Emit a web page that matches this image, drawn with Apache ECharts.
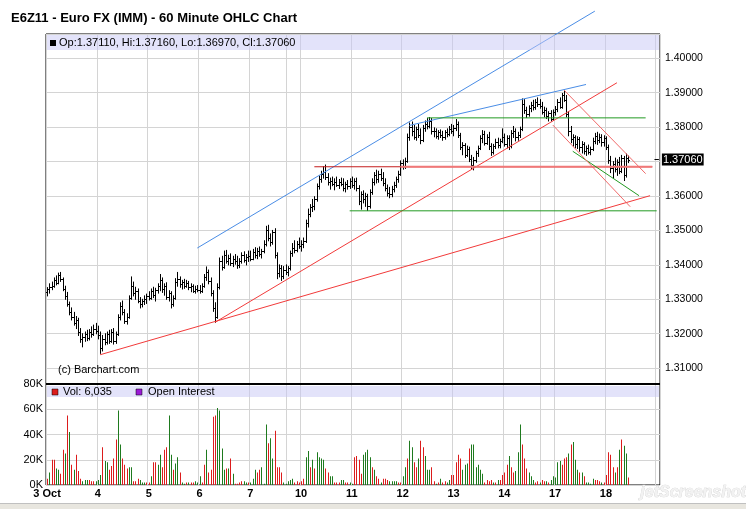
<!DOCTYPE html>
<html>
<head>
<meta charset="utf-8">
<title>E6Z11 60 Minute OHLC</title>
<script src="https://cdn.jsdelivr.net/npm/echarts@6/dist/echarts.min.js"></script>
<style>
  html, body { margin: 0; padding: 0; background: #fff; }
  #main { width: 746px; height: 509px; }
</style>
</head>
<body>
<div id="main"></div>
<script>
// day labels on the time axis, one trading day = 23 hourly bars
var dayLabels = ['3 Oct', '4', '5', '6', '7', '10', '11', '12', '13', '14', '17', '18'];
var barsPerDay = 23;
var slotCount = 278;          // room on the axis, bars stop at 264
var weekLines = [109, 224];   // extra vertical grid lines

// hourly bars: [open, high, low, close]
var ohlc = [
  // 3 Oct
  [1.3322,1.3334,1.3310,1.3330],[1.3330,1.3345,1.3318,1.3335],[1.3335,1.3350,1.3328,1.3340],[1.3340,1.3362,1.3335,1.3355],
  [1.3355,1.3368,1.3342,1.3348],[1.3348,1.3376,1.3345,1.3370],[1.3370,1.3378,1.3352,1.3358],[1.3358,1.3362,1.3325,1.3330],
  [1.3330,1.3338,1.3300,1.3310],[1.3310,1.3320,1.3280,1.3285],[1.3285,1.3292,1.3255,1.3262],[1.3262,1.3275,1.3240,1.3248],
  [1.3248,1.3262,1.3225,1.3232],[1.3232,1.3250,1.3215,1.3240],[1.3240,1.3245,1.3195,1.3205],[1.3205,1.3215,1.3175,1.3185],
  [1.3185,1.3200,1.3162,1.3190],[1.3190,1.3205,1.3178,1.3198],[1.3198,1.3210,1.3180,1.3188],[1.3188,1.3212,1.3182,1.3205],
  [1.3205,1.3220,1.3190,1.3200],[1.3200,1.3225,1.3195,1.3215],[1.3215,1.3230,1.3200,1.3208],
  // 4
  [1.3208,1.3222,1.3185,1.3195],[1.3195,1.3205,1.3143,1.3160],[1.3160,1.3195,1.3150,1.3185],[1.3185,1.3200,1.3168,1.3175],
  [1.3175,1.3205,1.3170,1.3198],[1.3198,1.3210,1.3172,1.3180],[1.3180,1.3212,1.3175,1.3205],[1.3205,1.3215,1.3170,1.3178],
  [1.3178,1.3205,1.3172,1.3200],[1.3200,1.3255,1.3195,1.3250],[1.3250,1.3290,1.3240,1.3280],[1.3280,1.3295,1.3255,1.3262],
  [1.3262,1.3270,1.3230,1.3238],[1.3238,1.3258,1.3228,1.3250],[1.3250,1.3310,1.3245,1.3305],[1.3305,1.3365,1.3300,1.3340],
  [1.3340,1.3350,1.3310,1.3318],[1.3318,1.3335,1.3300,1.3325],[1.3325,1.3330,1.3290,1.3295],[1.3295,1.3305,1.3275,1.3285],
  [1.3285,1.3300,1.3278,1.3295],[1.3295,1.3310,1.3285,1.3300],[1.3300,1.3315,1.3288,1.3310],
  // 5
  [1.3310,1.3322,1.3298,1.3305],[1.3305,1.3330,1.3300,1.3325],[1.3325,1.3335,1.3305,1.3312],[1.3312,1.3332,1.3295,1.3328],
  [1.3328,1.3345,1.3318,1.3338],[1.3338,1.3372,1.3325,1.3355],[1.3355,1.3362,1.3320,1.3330],[1.3330,1.3345,1.3312,1.3340],
  [1.3340,1.3348,1.3300,1.3308],[1.3308,1.3325,1.3295,1.3318],[1.3318,1.3322,1.3275,1.3285],[1.3285,1.3310,1.3280,1.3305],
  [1.3305,1.3360,1.3300,1.3350],[1.3350,1.3378,1.3338,1.3360],[1.3360,1.3365,1.3335,1.3345],[1.3345,1.3355,1.3330,1.3350],
  [1.3350,1.3358,1.3332,1.3340],[1.3340,1.3355,1.3335,1.3348],[1.3348,1.3352,1.3328,1.3335],[1.3335,1.3345,1.3322,1.3340],
  [1.3340,1.3342,1.3320,1.3325],[1.3325,1.3338,1.3318,1.3330],[1.3330,1.3340,1.3322,1.3328],
  // 6
  [1.3328,1.3340,1.3318,1.3325],[1.3325,1.3345,1.3320,1.3338],[1.3338,1.3372,1.3335,1.3365],[1.3365,1.3394,1.3355,1.3378],
  [1.3378,1.3385,1.3345,1.3352],[1.3352,1.3362,1.3310,1.3318],[1.3318,1.3325,1.3265,1.3275],[1.3275,1.3290,1.3233,1.3250],
  [1.3250,1.3345,1.3245,1.3335],[1.3335,1.3420,1.3330,1.3410],[1.3410,1.3425,1.3385,1.3395],[1.3395,1.3440,1.3390,1.3430],
  [1.3430,1.3442,1.3405,1.3412],[1.3412,1.3428,1.3400,1.3420],[1.3420,1.3432,1.3398,1.3405],[1.3405,1.3425,1.3395,1.3418],
  [1.3418,1.3430,1.3402,1.3410],[1.3410,1.3425,1.3390,1.3400],[1.3400,1.3418,1.3392,1.3412],[1.3412,1.3435,1.3405,1.3428],
  [1.3428,1.3438,1.3408,1.3415],[1.3415,1.3430,1.3400,1.3422],[1.3422,1.3440,1.3410,1.3425],
  // 7
  [1.3425,1.3440,1.3412,1.3418],[1.3418,1.3445,1.3415,1.3438],[1.3438,1.3450,1.3420,1.3428],[1.3428,1.3448,1.3418,1.3440],
  [1.3440,1.3452,1.3425,1.3432],[1.3432,1.3445,1.3420,1.3440],[1.3440,1.3470,1.3435,1.3462],[1.3462,1.3512,1.3455,1.3500],
  [1.3500,1.3515,1.3470,1.3478],[1.3478,1.3490,1.3455,1.3465],[1.3465,1.3500,1.3460,1.3495],[1.3495,1.3505,1.3420,1.3430],
  [1.3430,1.3435,1.3360,1.3375],[1.3375,1.3400,1.3365,1.3390],[1.3390,1.3398,1.3355,1.3368],[1.3368,1.3395,1.3360,1.3385],
  [1.3385,1.3400,1.3372,1.3378],[1.3378,1.3395,1.3368,1.3390],[1.3390,1.3440,1.3385,1.3435],[1.3435,1.3462,1.3425,1.3450],
  [1.3450,1.3470,1.3435,1.3442],[1.3442,1.3468,1.3438,1.3460],[1.3460,1.3478,1.3448,1.3455],
  // 10
  [1.3455,1.3470,1.3440,1.3462],[1.3462,1.3478,1.3450,1.3470],[1.3470,1.3530,1.3465,1.3522],[1.3522,1.3562,1.3510,1.3548],
  [1.3548,1.3575,1.3540,1.3568],[1.3568,1.3590,1.3555,1.3572],[1.3572,1.3598,1.3560,1.3590],[1.3590,1.3635,1.3585,1.3628],
  [1.3628,1.3658,1.3620,1.3650],[1.3650,1.3672,1.3640,1.3665],[1.3665,1.3685,1.3652,1.3670],[1.3670,1.3690,1.3648,1.3655],
  [1.3655,1.3665,1.3632,1.3640],[1.3640,1.3652,1.3620,1.3645],[1.3645,1.3655,1.3630,1.3635],[1.3635,1.3650,1.3618,1.3642],
  [1.3642,1.3655,1.3628,1.3632],[1.3632,1.3648,1.3622,1.3640],[1.3640,1.3652,1.3630,1.3636],[1.3636,1.3650,1.3615,1.3622],
  [1.3622,1.3640,1.3612,1.3635],[1.3635,1.3645,1.3620,1.3628],[1.3628,1.3650,1.3622,1.3645],
  // 11
  [1.3645,1.3655,1.3625,1.3632],[1.3632,1.3650,1.3620,1.3645],[1.3645,1.3652,1.3615,1.3622],[1.3622,1.3630,1.3575,1.3585],
  [1.3585,1.3612,1.3562,1.3605],[1.3605,1.3615,1.3580,1.3592],[1.3592,1.3608,1.3570,1.3600],[1.3600,1.3605,1.3558,1.3570],
  [1.3570,1.3618,1.3565,1.3612],[1.3612,1.3650,1.3605,1.3640],[1.3640,1.3668,1.3632,1.3660],[1.3660,1.3675,1.3638,1.3648],
  [1.3648,1.3672,1.3640,1.3665],[1.3665,1.3678,1.3645,1.3652],[1.3652,1.3668,1.3630,1.3638],[1.3638,1.3650,1.3615,1.3622],
  [1.3622,1.3632,1.3600,1.3610],[1.3610,1.3625,1.3595,1.3605],[1.3605,1.3628,1.3598,1.3620],[1.3620,1.3640,1.3612,1.3632],
  [1.3632,1.3655,1.3625,1.3648],[1.3648,1.3672,1.3640,1.3665],[1.3665,1.3702,1.3660,1.3695],
  // 12
  [1.3695,1.3705,1.3678,1.3688],[1.3688,1.3710,1.3680,1.3702],[1.3702,1.3780,1.3698,1.3770],[1.3770,1.3812,1.3762,1.3800],
  [1.3800,1.3815,1.3775,1.3788],[1.3788,1.3805,1.3765,1.3772],[1.3772,1.3800,1.3762,1.3795],[1.3795,1.3808,1.3770,1.3778],
  [1.3778,1.3795,1.3752,1.3762],[1.3762,1.3805,1.3758,1.3798],[1.3798,1.3818,1.3788,1.3810],[1.3810,1.3825,1.3795,1.3802],
  [1.3802,1.3828,1.3798,1.3818],[1.3818,1.3825,1.3780,1.3788],[1.3788,1.3798,1.3772,1.3790],[1.3790,1.3795,1.3768,1.3775],
  [1.3775,1.3790,1.3765,1.3785],[1.3785,1.3792,1.3770,1.3778],[1.3778,1.3788,1.3762,1.3770],[1.3770,1.3790,1.3765,1.3785],
  [1.3785,1.3795,1.3772,1.3780],[1.3780,1.3802,1.3775,1.3795],[1.3795,1.3808,1.3782,1.3790],
  // 13
  [1.3790,1.3805,1.3775,1.3798],[1.3798,1.3822,1.3790,1.3810],[1.3810,1.3815,1.3770,1.3778],[1.3778,1.3782,1.3735,1.3742],
  [1.3742,1.3755,1.3720,1.3748],[1.3748,1.3752,1.3712,1.3720],[1.3720,1.3745,1.3715,1.3738],[1.3738,1.3742,1.3700,1.3708],
  [1.3708,1.3718,1.3680,1.3690],[1.3690,1.3712,1.3676,1.3705],[1.3705,1.3730,1.3698,1.3725],[1.3725,1.3745,1.3715,1.3740],
  [1.3740,1.3775,1.3735,1.3768],[1.3768,1.3790,1.3755,1.3780],[1.3780,1.3788,1.3748,1.3755],[1.3755,1.3778,1.3750,1.3772],
  [1.3772,1.3785,1.3735,1.3745],[1.3745,1.3752,1.3718,1.3728],[1.3728,1.3750,1.3722,1.3745],[1.3745,1.3765,1.3738,1.3758],
  [1.3758,1.3768,1.3740,1.3748],[1.3748,1.3765,1.3740,1.3760],[1.3760,1.3795,1.3755,1.3772],
  // 14
  [1.3772,1.3780,1.3745,1.3752],[1.3752,1.3775,1.3740,1.3768],[1.3768,1.3775,1.3735,1.3745],[1.3745,1.3790,1.3740,1.3782],
  [1.3782,1.3802,1.3770,1.3790],[1.3790,1.3795,1.3760,1.3772],[1.3772,1.3785,1.3762,1.3778],[1.3778,1.3800,1.3770,1.3795],
  [1.3795,1.3882,1.3790,1.3868],[1.3868,1.3880,1.3840,1.3850],[1.3850,1.3858,1.3828,1.3838],[1.3838,1.3862,1.3832,1.3855],
  [1.3855,1.3872,1.3845,1.3865],[1.3865,1.3878,1.3850,1.3858],[1.3858,1.3880,1.3852,1.3872],[1.3872,1.3885,1.3860,1.3868],
  [1.3868,1.3880,1.3855,1.3862],[1.3862,1.3872,1.3838,1.3845],[1.3845,1.3858,1.3830,1.3850],[1.3850,1.3855,1.3825,1.3832],
  [1.3832,1.3845,1.3818,1.3840],[1.3840,1.3848,1.3818,1.3825],[1.3825,1.3850,1.3820,1.3845],
  // 17
  [1.3845,1.3860,1.3835,1.3852],[1.3852,1.3880,1.3845,1.3872],[1.3872,1.3885,1.3855,1.3860],[1.3860,1.3898,1.3855,1.3892],
  [1.3892,1.3904,1.3875,1.3880],[1.3880,1.3892,1.3830,1.3838],[1.3838,1.3845,1.3775,1.3790],[1.3790,1.3802,1.3755,1.3765],
  [1.3765,1.3778,1.3745,1.3770],[1.3770,1.3775,1.3740,1.3752],[1.3752,1.3772,1.3738,1.3765],[1.3765,1.3770,1.3730,1.3742],
  [1.3742,1.3758,1.3725,1.3750],[1.3750,1.3755,1.3722,1.3730],[1.3730,1.3745,1.3718,1.3740],[1.3740,1.3748,1.3722,1.3728],
  [1.3728,1.3742,1.3720,1.3738],[1.3738,1.3768,1.3732,1.3760],[1.3760,1.3782,1.3752,1.3775],[1.3775,1.3785,1.3750,1.3762],
  [1.3762,1.3780,1.3755,1.3772],[1.3772,1.3778,1.3745,1.3758],[1.3758,1.3775,1.3745,1.3768],
  // 18
  [1.3768,1.3772,1.3735,1.3742],[1.3742,1.3748,1.3695,1.3705],[1.3705,1.3715,1.3668,1.3680],[1.3680,1.3700,1.3652,1.3692],
  [1.3692,1.3710,1.3670,1.3678],[1.3678,1.3705,1.3660,1.3698],[1.3698,1.3712,1.3665,1.3672],[1.3672,1.3718,1.3668,1.3710],
  [1.3710,1.3715,1.3645,1.3660],[1.3660,1.3722,1.3655,1.3711],[1.3711,1.3716,1.3697,1.3706]
];

// hourly volume, thousands of contracts
var volumes = [
  5,10,20,20,13,12,9,28,25,55,42,16,12,24,11,5,3,4,4,4,3,3,3,
  4,8,30,19,18,12,15,21,36,59,32,21,16,13,14,14,3,3,5,4,2,2,2,
  2,7,18,18,16,24,14,28,30,55,24,12,17,22,10,2,1,2,2,2,2,3,2,
  7,2,16,28,10,12,54,55,61,59,29,12,13,13,21,9,1,1,2,3,3,2,2,
  2,5,12,10,12,14,1,48,33,37,21,43,14,14,10,2,1,3,4,5,2,3,2,
  3,5,22,27,14,20,13,26,22,21,20,13,10,7,7,2,2,2,4,4,2,2,2,
  1,22,23,20,9,24,26,28,22,14,12,7,5,2,5,5,4,3,3,3,3,2,2,
  7,14,21,35,30,18,14,21,35,30,23,12,12,14,3,1,2,5,2,3,2,4,8,
  8,18,24,21,12,16,17,29,32,32,14,16,12,9,2,4,3,4,2,2,4,4,8,
  10,16,23,14,10,11,26,48,32,21,13,10,7,4,2,3,2,4,3,3,2,4,7,
  6,18,19,16,21,22,25,32,34,20,12,10,10,7,2,2,1,5,4,4,3,2,2,
  8,26,24,14,10,14,28,36,31,25,6.035
];

// volume bar colour per hour, r = down, g = up
var volDir = [
  'rgrrggrrgrgrgrrrgggrrrg', 'ggrggrrrrggrrrggrrrgggr', 'rgrrggrrrggrggrggrgrrgg',
  'grrgrrrrggggrgrgrrrrggr', 'gggrrgggrggrrrrgggggrrr', 'rrggrgrggggrrggrrrggrrg',
  'grrrrggggrgrrgrrrggggrr', 'ggrggrrgrrgggrrgrgrrggr', 'rrrrgggrggggggrrrrgrgrr',
  'rrgrrgggrrrgggrrgrrgrgg', 'gggrrrgrgggrgrggggrrrgr', 'rrrrgrgrggr'
];

// hand-drawn trend lines: [bar index, price] end points
var trendLines = [
  { kind: 'blue',     from: [68, 1.3449],  to: [248, 1.4137] },
  { kind: 'blue',     from: [164, 1.3805], to: [244, 1.3924] },
  { kind: 'red',      from: [76, 1.3233],  to: [258, 1.3929] },
  { kind: 'red',      from: [24, 1.3139],  to: [273, 1.3601] },
  { kind: 'darkRed',  from: [121, 1.3685], to: [274, 1.3685] },
  { kind: 'redWide',  from: [160, 1.3685], to: [274, 1.3685] },
  { kind: 'green',    from: [172, 1.3827], to: [271, 1.3827] },
  { kind: 'green',    from: [137, 1.3557], to: [276, 1.3557] },
  { kind: 'green',    from: [238, 1.3730], to: [268, 1.3601] },
  { kind: 'lightRed', from: [234, 1.3908], to: [271, 1.3665] },
  { kind: 'lightRed', from: [229, 1.3806], to: [264, 1.3569] }
];

var lineLook = {
  blue: { color: '#4a8de6', width: 1 },
  red: { color: '#f23a3a', width: 1 },
  darkRed: { color: '#c41c1c', width: 1 },
  redWide: { color: '#f07878', width: 2 },
  lightRed: { color: '#f06a6a', width: 1 },
  green: { color: '#229a22', width: 1 }
};

var cats = [];
for (var i = 0; i < slotCount; i++) cats.push(String(i));

var barData = ohlc.map(function (b, i) { return [i, b[0], b[1], b[2], b[3]]; });
var dirs = volDir.join('');
var volData = volumes.map(function (v, i) { return [i, v, dirs.charAt(i) === 'r' ? 0 : 1]; });

var last = ohlc[ohlc.length - 1];
var legendText = 'Op:' + last[0].toFixed(5) + ', Hi:' + last[1].toFixed(5) +
  ', Lo:' + last[2].toFixed(5) + ', Cl:' + last[3].toFixed(5);
var volText = 'Vol: ' + Math.round(volumes[volumes.length - 1] * 1000).toLocaleString('en-US');

function gridEvery(idx) {
  return idx % barsPerDay === 0 || weekLines.indexOf(idx) >= 0;
}

// OHLC bar: high-low stick, open tick left, close tick right
function renderOhlc(params, api) {
  var i = api.value(0);
  var o = api.coord([i, api.value(1)]);
  var h = api.coord([i, api.value(2)]);
  var l = api.coord([i, api.value(3)]);
  var c = api.coord([i, api.value(4)]);
  var x = Math.round(o[0]) + 0.5;
  var st = { stroke: '#000', lineWidth: 1 };
  return {
    type: 'group',
    children: [
      { type: 'line', shape: { x1: x, y1: h[1] - 0.5, x2: x, y2: l[1] + 0.5 }, style: st },
      { type: 'line', shape: { x1: x - 1.5, y1: Math.round(o[1]) + 0.5, x2: x, y2: Math.round(o[1]) + 0.5 }, style: st },
      { type: 'line', shape: { x1: x, y1: Math.round(c[1]) + 0.5, x2: x + 1.5, y2: Math.round(c[1]) + 0.5 }, style: st }
    ]
  };
}

// volume stick, one pixel wide on a whole pixel
function renderVol(params, api) {
  var i = api.value(0);
  var top = api.coord([i, api.value(1)]);
  var base = api.coord([i, 0]);
  var x = Math.round(top[0]);
  return {
    type: 'rect',
    shape: { x: x, y: top[1], width: 1, height: base[1] - top[1] },
    style: { fill: api.value(2) ? '#1e7a1e' : '#dc1c1c' }
  };
}

var font = '"Liberation Sans", Arial, sans-serif';

var series = [{
  type: 'custom',
  xAxisIndex: 0,
  yAxisIndex: 0,
  renderItem: renderOhlc,
  encode: { x: 0, y: [1, 2, 3, 4] },
  data: barData,
  z: 3
}];

trendLines.forEach(function (t) {
  var look = lineLook[t.kind];
  series.push({
    type: 'line',
    xAxisIndex: 0,
    yAxisIndex: 0,
    data: [t.from, t.to],
    symbol: 'none',
    clip: false,
    silent: true,
    lineStyle: { color: look.color, width: look.width },
    z: 4
  });
});

// last close marker on the price axis
series.push({
  type: 'line',
  xAxisIndex: 0,
  yAxisIndex: 0,
  data: [[275, last[3]], [277, last[3]]],
  symbol: 'none',
  silent: true,
  lineStyle: { color: '#000', width: 1 },
  z: 5,
  endLabel: {
    show: true,
    formatter: last[3].toFixed(5),
    distance: 3,
    backgroundColor: '#000',
    color: '#fff',
    fontFamily: font,
    fontSize: 11,
    padding: [1, 1, 0, 1]
  }
});

series.push({
  type: 'custom',
  xAxisIndex: 1,
  yAxisIndex: 1,
  renderItem: renderVol,
  encode: { x: 0, y: 1 },
  data: volData,
  z: 3
});

var option = {
  animation: false,
  backgroundColor: '#fff',
  grid: [
    { left: 46, right: 86, top: 34, height: 350, show: true, borderColor: '#000', borderWidth: 1 },
    { left: 46, right: 86, top: 384, height: 101, show: true, borderColor: '#000', borderWidth: 1 }
  ],
  xAxis: [{
    type: 'category', gridIndex: 0, data: cats, boundaryGap: true,
    axisLine: { show: false }, axisTick: { show: false }, axisLabel: { show: false },
    splitLine: { show: true, interval: gridEvery, lineStyle: { color: '#d4d4d4' } }
  }, {
    type: 'category', gridIndex: 1, data: cats, boundaryGap: true,
    axisLine: { show: false }, axisTick: { show: false },
    axisLabel: {
      interval: function (idx) { return idx % barsPerDay === 0 && idx / barsPerDay < dayLabels.length; },
      formatter: function (v, idx) { return dayLabels[Math.round(idx / barsPerDay)] || ''; },
      fontFamily: font, fontSize: 11, fontWeight: 'bold', color: '#000', margin: 3
    },
    splitLine: { show: true, interval: gridEvery, lineStyle: { color: '#d4d4d4' } }
  }],
  yAxis: [{
    type: 'value', gridIndex: 0, position: 'right',
    min: 1.30540, max: 1.40706, splitNumber: 10,
    axisLine: { show: false }, axisTick: { show: false },
    axisLabel: {
      formatter: function (v) { return v.toFixed(5); },
      fontFamily: font, fontSize: 10.5, color: '#000', margin: 5,
      showMinLabel: false, showMaxLabel: false
    },
    splitLine: { lineStyle: { color: '#d4d4d4' } }
  }, {
    type: 'value', gridIndex: 1, position: 'left',
    min: 0, max: 80, interval: 20,
    axisLine: { show: false }, axisTick: { show: false },
    axisLabel: { formatter: '{value}K', fontFamily: font, fontSize: 11, color: '#000', margin: 3 },
    splitLine: { lineStyle: { color: '#d4d4d4' } }
  }],
  graphic: [
    { type: 'text', left: 11, top: 12, style: { text: 'E6Z11 - Euro FX (IMM) - 60 Minute OHLC Chart', font: 'bold 13px ' + font, fill: '#000' } },
    { type: 'rect', shape: { x: 47, y: 35, width: 612, height: 15 }, style: { fill: 'rgba(200,200,246,0.5)' }, z: 10 },
    { type: 'rect', shape: { x: 50, y: 40, width: 6, height: 6 }, style: { fill: '#000' }, z: 11 },
    { type: 'text', left: 59, top: 37, style: { text: legendText, font: '11px ' + font, fill: '#000' }, z: 11 },
    { type: 'text', left: 58, top: 364, style: { text: '(c) Barchart.com', font: '11px ' + font, fill: '#000' }, z: 11 },
    { type: 'rect', shape: { x: 47, y: 386, width: 612, height: 11 }, style: { fill: 'rgba(200,200,246,0.5)' }, z: 10 },
    { type: 'rect', shape: { x: 52, y: 389, width: 6, height: 6 }, style: { fill: '#dc1c1c', stroke: '#000', lineWidth: 0.5 }, z: 11 },
    { type: 'text', left: 63, top: 386, style: { text: volText, font: '11px ' + font, fill: '#000' }, z: 11 },
    { type: 'rect', shape: { x: 136, y: 389, width: 6, height: 6 }, style: { fill: '#9a1ad6', stroke: '#000', lineWidth: 0.5 }, z: 11 },
    { type: 'text', left: 148, top: 386, style: { text: 'Open Interest', font: '11px ' + font, fill: '#000' }, z: 11 },
    { type: 'line', shape: { x1: 46, y1: 384, x2: 660, y2: 384 }, style: { stroke: '#000', lineWidth: 2 }, z: 12 },
    { type: 'line', shape: { x1: 0, y1: 503.5, x2: 746, y2: 503.5 }, style: { stroke: '#c0c0c0', lineWidth: 1 }, z: 12 },
    { type: 'rect', shape: { x: 0, y: 504, width: 746, height: 5 }, style: { fill: '#e8e6df' }, z: 12 },
    { type: 'text', left: 640, top: 484, style: { text: 'jetScreenshot', font: 'italic bold 16px ' + font, fill: '#f2f2f2', stroke: '#cfcfcf', lineWidth: 0.6 }, z: 12 }
  ],
  series: series
};

var chart = echarts.init(document.getElementById('main'), null, { renderer: 'canvas' });
chart.setOption(option);
</script>
</body>
</html>
